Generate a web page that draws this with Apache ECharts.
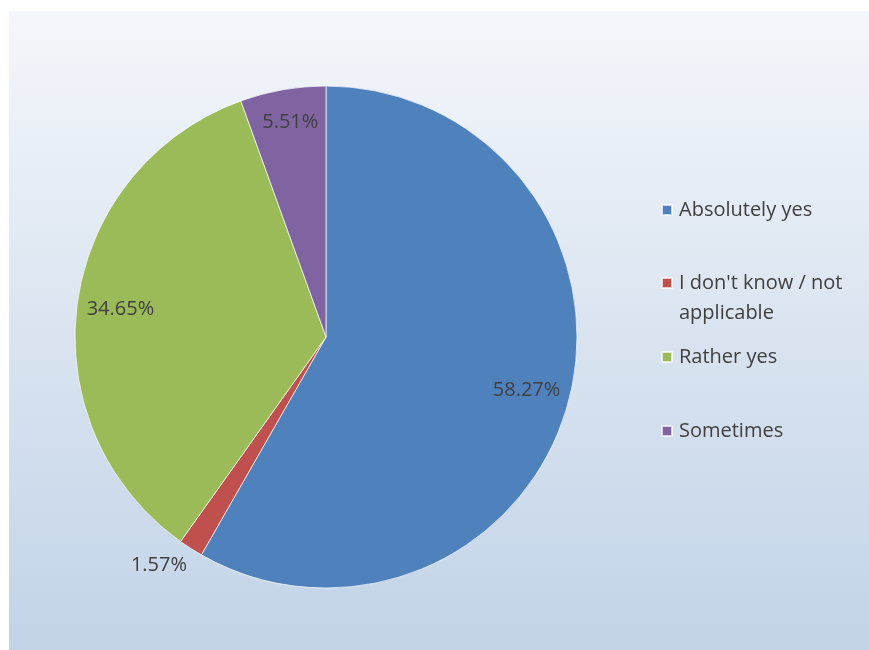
<!DOCTYPE html>
<html>
<head>
<meta charset="utf-8">
<script src="https://cdn.jsdelivr.net/npm/echarts@6/dist/echarts.min.js"></script>
<style>html,body{margin:0;padding:0;background:#fff}#c{width:869px;height:650px}</style>
</head>
<body>
<div id="c"></div>
<script>
const categories = ['Absolutely yes', "I don't know / not applicable", 'Rather yes', 'Sometimes'];
const values = [58.27, 1.57, 34.65, 5.51];
const colors = ['#4f81bd', '#c0504d', '#9bbb59', '#8064a2'];
const legendText = ['Absolutely yes', "\nI don't know / not\napplicable", 'Rather yes', 'Sometimes'];

const FONT = '"Open Sans", "Liberation Sans", sans-serif';
const TXT = '#404040';

const chart = echarts.init(document.getElementById('c'), null, {renderer: 'canvas'});

const mainData = categories.map((n, i) => ({name: n, value: values[i], itemStyle: {color: colors[i]}}));
const labelData = categories.map((n, i) => {
  const d = {name: n, value: values[i]};
  if (values[i] < 3) {
    d.label = {position: 'outside', distanceToLabelLine: -7};
    d.labelLine = {show: false, length: 20, length2: 0};
  } else if (values[i] < 10) {
    d.label = {offset: [0, -10]};
  }
  return d;
});

const legendTops = [198, 238, 345, 419];
const legends = categories.map((n, i) => {
  const twoLine = legendText[i].indexOf('\n') >= 0;
  return {
    orient: 'vertical', left: 661, top: legendTops[i], padding: 0,
    itemWidth: 10, itemHeight: 10, icon: 'rect', selectedMode: false,
    data: [n],
    formatter: () => legendText[i],
    textStyle: twoLine
      ? {fontFamily: FONT, fontSize: 20, color: TXT, lineHeight: 30, padding: [0, 0, 0, 2]}
      : {fontFamily: FONT, fontSize: 20, color: TXT, lineHeight: 24, padding: [0, 0, 0, 2]}
  };
});

chart.setOption({
  animation: false,
  graphic: [{
    type: 'rect', z: -10, silent: true,
    shape: {x: 9, y: 11, width: 860, height: 639},
    style: {fill: new echarts.graphic.LinearGradient(0, 0, 0, 1, [
      {offset: 0, color: '#f4f7fb'},
      {offset: 0.5, color: '#dae4f0'},
      {offset: 1, color: '#c2d3e8'}
    ])}
  }],
  legend: legends,
  series: [{
    type: 'pie', center: [326, 337], radius: [0, 251],
    startAngle: 90, clockwise: true, silent: true,
    label: {show: false}, labelLine: {show: false},
    itemStyle: {borderColor: 'rgba(255,255,255,0.7)', borderWidth: 1},
    data: mainData
  }, {
    type: 'pie', center: [326, 337], radius: [158, 251],
    startAngle: 90, clockwise: true, silent: true,
    avoidLabelOverlap: false, legendHoverLink: false,
    itemStyle: {color: 'transparent', borderWidth: 0},
    emphasis: {disabled: true},
    label: {show: true, position: 'inside', fontFamily: FONT, fontSize: 20, color: TXT,
      formatter: p => p.value.toFixed(2) + '%'},
    labelLine: {show: false},
    data: labelData
  }]
});
</script>
</body>
</html>
